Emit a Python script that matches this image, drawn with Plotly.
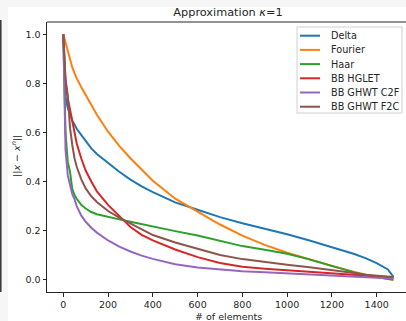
import plotly.graph_objects as go

# ---- data ----
n_elements = [0, 5, 10, 20, 30, 40, 50, 60, 80, 100, 125, 150, 200, 250, 300, 350, 400,
              500, 600, 700, 800, 900, 1000, 1100, 1200, 1300, 1350, 1400, 1450, 1475]

delta = [1.0, 0.82, 0.745, 0.70, 0.67, 0.648, 0.632, 0.615, 0.59, 0.565, 0.535, 0.512, 0.476,
         0.44, 0.408, 0.38, 0.357, 0.315, 0.285, 0.255, 0.23, 0.208, 0.185, 0.16, 0.134,
         0.105, 0.088, 0.068, 0.042, 0.012]
fourier = [1.0, 0.982, 0.965, 0.93, 0.897, 0.866, 0.842, 0.82, 0.785, 0.752, 0.71, 0.672, 0.603,
           0.545, 0.495, 0.447, 0.403, 0.33, 0.278, 0.225, 0.18, 0.142, 0.11, 0.082, 0.056,
           0.032, 0.021, 0.011, 0.003, 0.0]
haar = [1.0, 0.78, 0.6, 0.48, 0.44, 0.37, 0.345, 0.33, 0.305, 0.29, 0.276, 0.267, 0.255, 0.246,
        0.236, 0.226, 0.216, 0.198, 0.18, 0.157, 0.137, 0.122, 0.106, 0.083, 0.055, 0.03,
        0.018, 0.01, 0.004, 0.0]
bb_hglet = [1.0, 0.86, 0.8, 0.74, 0.69, 0.645, 0.59, 0.555, 0.495, 0.445, 0.4, 0.36, 0.305,
            0.26, 0.215, 0.183, 0.16, 0.123, 0.092, 0.068, 0.053, 0.045, 0.039, 0.033, 0.027,
            0.019, 0.016, 0.013, 0.01, 0.009]
bb_ghwt_c2f = [1.0, 0.7, 0.53, 0.425, 0.385, 0.35, 0.328, 0.3, 0.262, 0.236, 0.212, 0.192, 0.16,
               0.135, 0.115, 0.098, 0.085, 0.063, 0.05, 0.042, 0.035, 0.03, 0.025, 0.021, 0.018,
               0.012, 0.01, 0.008, 0.006, 0.005]
bb_ghwt_f2c = [1.0, 0.88, 0.82, 0.75, 0.62, 0.55, 0.495, 0.46, 0.41, 0.372, 0.34, 0.317, 0.28,
               0.253, 0.23, 0.205, 0.182, 0.152, 0.125, 0.101, 0.084, 0.071, 0.061, 0.051, 0.04,
               0.027, 0.02, 0.016, 0.013, 0.011]

series_names = ["Delta", "Fourier", "Haar", "BB HGLET", "BB GHWT C2F", "BB GHWT F2C"]
series_values = [delta, fourier, haar, bb_hglet, bb_ghwt_c2f, bb_ghwt_f2c]
colors = ["#1f77b4", "#ff7f0e", "#2ca02c", "#d62728", "#9467bd", "#8c564b"]

x_ticks = [0, 200, 400, 600, 800, 1000, 1200, 1400]
y_ticks = [0.0, 0.2, 0.4, 0.6, 0.8, 1.0]

# ---- figure ----
W, H = 406, 321
L, R, T, B = 47, 0, 22, 29
FONT = "DejaVu Sans, Verdana, sans-serif"
INK = "#262626"

fig = go.Figure()
for name, vals, col in zip(series_names, series_values, colors):
    fig.add_trace(go.Scatter(x=n_elements, y=vals, mode="lines", name=name,
                             line=dict(color=col, width=2), showlegend=False))

pw, ph = W - L - R, H - T - B


def px_x(p):
    return (p - L) / pw


def px_y(p):
    return (H - B - p) / ph


axis_common = dict(showline=True, linecolor=INK, linewidth=1, ticks="outside",
                   ticklen=3.5, tickcolor=INK, tickwidth=1, showgrid=False,
                   zeroline=False, automargin=False, mirror=False,
                   tickfont=dict(family=FONT, size=9.5, color=INK))

shapes = [
    # top spine
    dict(type="line", xref="paper", yref="paper", x0=0, x1=1, y0=1, y1=1,
         line=dict(color=INK, width=1)),
    # light gray page background strips
    dict(type="rect", xref="paper", yref="paper", x0=px_x(0), x1=px_x(8),
         y0=px_y(H), y1=px_y(0), fillcolor="#f6f6f6", line=dict(width=0), layer="below"),
    dict(type="rect", xref="paper", yref="paper", x0=px_x(0), x1=px_x(W),
         y0=px_y(7), y1=px_y(0), fillcolor="#f6f6f6", line=dict(width=0), layer="below"),
    # neighbouring panel edge
    dict(type="line", xref="paper", yref="paper", x0=px_x(0.8), x1=px_x(0.8),
         y0=px_y(292), y1=px_y(20), line=dict(color="#333333", width=1.5)),
    # legend frame
    dict(type="rect", xref="paper", yref="paper", x0=px_x(297), x1=px_x(402),
         y0=px_y(113), y1=px_y(27), fillcolor="rgba(255,255,255,0.85)",
         line=dict(color="#d0d0d0", width=1)),
]

annotations = [
    dict(text="# of elements", xref="paper", yref="paper", x=px_x(228), y=px_y(316),
         xanchor="center", yanchor="middle", showarrow=False,
         font=dict(family=FONT, size=9.5, color=INK)),
    dict(text="||<i>x</i> − <i>x</i><sup><i>n</i></sup>||", xref="paper", yref="paper",
         x=px_x(16), y=px_y(156), xanchor="center", yanchor="middle", textangle=-90,
         showarrow=False, font=dict(family=FONT, size=9.5, color=INK)),
]

# legend entries (sample line + label)
row_y0, row_dy = 35.7, 14.2
for i, (name, col) in enumerate(zip(series_names, colors)):
    yy = row_y0 + i * row_dy
    shapes.append(dict(type="line", xref="paper", yref="paper", x0=px_x(300), x1=px_x(320),
                       y0=px_y(yy), y1=px_y(yy), line=dict(color=col, width=2)))
    annotations.append(dict(text=name, xref="paper", yref="paper", x=px_x(328.5), y=px_y(yy),
                            xanchor="left", yanchor="middle", showarrow=False,
                            font=dict(family=FONT, size=9.7, color=INK)))

fig.update_layout(
    width=W, height=H,
    margin=dict(l=L, r=R, t=T, b=B, pad=0),
    paper_bgcolor="white", plot_bgcolor="white",
    font=dict(family=FONT, color=INK),
    title=dict(text="Approximation <i>κ</i>=1", x=228 / W, xref="container", xanchor="center",
               y=1 - 12 / H, yref="container", yanchor="middle",
               font=dict(family=FONT, size=11.3, color=INK)),
    xaxis=dict(range=[-72.8, 1531], tickvals=x_ticks, ticktext=[str(v) for v in x_ticks],
               **axis_common),
    yaxis=dict(range=[-0.05, 1.05], tickvals=y_ticks, ticktext=[f"{v:.1f}" for v in y_ticks],
               **axis_common),
    showlegend=False,
    shapes=shapes,
    annotations=annotations,
)

# the page's default body margin would shift the figure by 8px; remove it
fig.write_html(
    "out.html",
    config={"displayModeBar": False},
    post_script="document.body.style.margin='0px'; document.body.style.overflow='hidden';",
)
